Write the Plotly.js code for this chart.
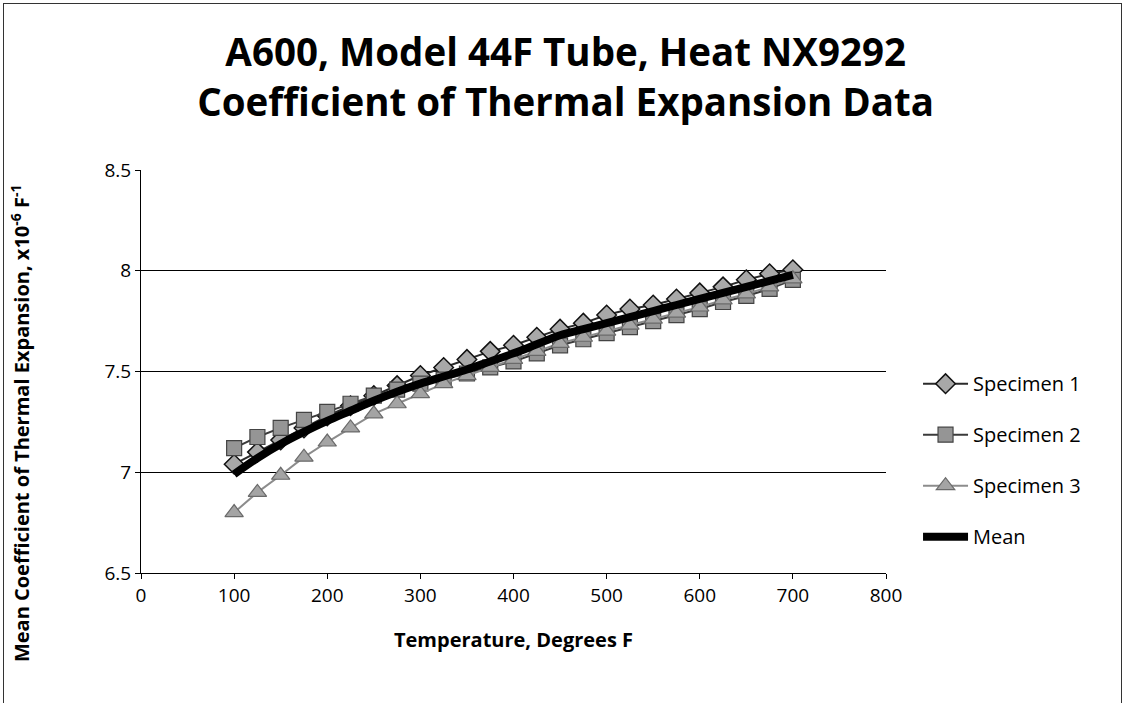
<!DOCTYPE html>
<html>
<head>
<meta charset="utf-8">
<script src="https://cdn.plot.ly/plotly-3.0.1.min.js"></script>
<style>
  html, body { margin: 0; padding: 0; background: #fff; }
  #wrap { position: relative; width: 1126px; height: 703px; overflow: hidden; }
  #frame { position: absolute; left: 3px; top: 3px; width: 1119px; height: 720px; border: 1px solid #333; box-sizing: border-box; pointer-events: none; }
  #chart { position: absolute; left: 0; top: 0; width: 1126px; height: 703px; }
</style>
</head>
<body>
<div id="wrap">
  <div id="chart"></div>
  <div id="frame"></div>
</div>
<script>
const temperature = [100,125,150,175,200,225,250,275,300,325,350,375,400,425,450,475,500,525,550,575,600,625,650,675,700];
const specimen1 = [7.04,7.10,7.16,7.22,7.28,7.33,7.38,7.43,7.48,7.52,7.56,7.60,7.63,7.67,7.71,7.74,7.78,7.81,7.83,7.86,7.89,7.92,7.955,7.985,8.005];
const specimen2 = [7.12,7.175,7.22,7.26,7.30,7.34,7.38,7.41,7.44,7.46,7.49,7.52,7.55,7.59,7.63,7.66,7.69,7.72,7.75,7.78,7.81,7.845,7.875,7.91,7.955];
const specimen3 = [6.80,6.90,6.985,7.075,7.15,7.22,7.29,7.34,7.39,7.44,7.48,7.52,7.56,7.60,7.64,7.67,7.70,7.73,7.76,7.79,7.82,7.855,7.885,7.92,7.96];
const meanCTE  = [6.99,7.07,7.14,7.20,7.255,7.305,7.355,7.40,7.44,7.475,7.51,7.55,7.59,7.635,7.68,7.71,7.74,7.77,7.80,7.83,7.86,7.89,7.92,7.95,7.98];
const seriesNames = ["Specimen 1","Specimen 2","Specimen 3","Mean"];
const xTicks = [0,100,200,300,400,500,600,700,800];
const yTicks = [6.5,7,7.5,8,8.5];
const titleText = "<b>A600, Model 44F Tube, Heat NX9292<br>Coefficient of Thermal Expansion Data</b>";
const xTitleText = "<b>Temperature, Degrees F</b>";
const yTitleText = "<b>Mean Coefficient of Thermal Expansion, x10<sup>-6</sup> F<sup>-1</sup></b>";

const FONT = "Open Sans, Noto Sans, sans-serif";

const traces = [
  {x: temperature, y: specimen1, name: seriesNames[0], legendgroup: "g1", mode: "lines+markers",
   line: {color: "#2a2a2a", width: 2},
   marker: {symbol: "diamond", size: 15, color: "#a8a8a8", line: {color: "#111", width: 1.5}}},
  {x: temperature, y: specimen2, name: seriesNames[1], legendgroup: "g2", mode: "lines+markers",
   line: {color: "#3a3a3a", width: 2},
   marker: {symbol: "square", size: 15, color: "#959595", line: {color: "#444", width: 1.2}}},
  {x: temperature, y: specimen3, name: seriesNames[2], legendgroup: "g3", mode: "lines+markers",
   line: {color: "#8c8c8c", width: 2},
   marker: {symbol: "triangle-up", size: 16, color: "#a4a4a4", line: {color: "#6a6a6a", width: 1.2}}},
  {x: temperature, y: meanCTE, name: seriesNames[3], legendgroup: "g4", mode: "lines",
   line: {color: "#000", width: 8, shape: "spline"}}
];

const layout = {
  width: 1126, height: 703,
  paper_bgcolor: "#fff", plot_bgcolor: "#fff",
  margin: {l: 141, r: 240, t: 170, b: 130},
  font: {family: FONT, color: "#000", size: 19},
  title: {
    text: titleText,
    font: {family: FONT, size: 38.5, color: "#000"},
    x: 0.570, xanchor: "center", y: 0.906, yanchor: "middle", xref: "paper"
  },
  xaxis: {
    range: [0, 800], tickvals: xTicks, ticktext: xTicks.map(String),
    showgrid: false, zeroline: false, showline: true, linecolor: "#000", linewidth: 1,
    ticks: "outside", ticklen: 5, tickcolor: "#000",
    tickfont: {family: FONT, size: 19, color: "#000"},
    title: {text: xTitleText, font: {family: FONT, size: 20, color: "#000"}, standoff: 26}
  },
  yaxis: {
    range: [6.5, 8.5], tickvals: yTicks, ticktext: yTicks.map(String),
    showgrid: true, gridcolor: "#000", gridwidth: 1, zeroline: false,
    showline: true, linecolor: "#000", linewidth: 1,
    ticks: "outside", ticklen: 5, tickcolor: "#000",
    tickfont: {family: FONT, size: 19, color: "#000"}
  },
  annotations: [{
    text: yTitleText, textangle: -90, showarrow: false,
    xref: "paper", yref: "paper", x: -0.1624, y: 0.372, xanchor: "center", yanchor: "middle",
    font: {family: FONT, size: 20, color: "#000"}
  }],
  showlegend: true,
  legend: {
    x: 1.043, xanchor: "left", y: 0.28, yanchor: "middle",
    font: {family: FONT, size: 20, color: "#000"},
    tracegroupgap: 22, bgcolor: "rgba(0,0,0,0)", itemwidth: 45
  }
};

Plotly.newPlot("chart", traces, layout, {displayModeBar: false, staticPlot: true});
</script>
</body>
</html>
